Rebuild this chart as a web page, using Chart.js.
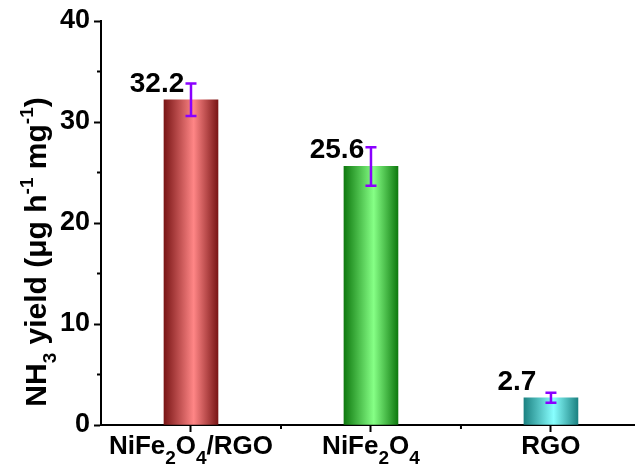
<!DOCTYPE html>
<html>
<head>
<meta charset="utf-8">
<script src="https://cdn.jsdelivr.net/npm/chart.js@4/dist/chart.umd.min.js"></script>
<style>
  html, body { margin: 0; padding: 0; background: #fff; overflow: hidden; }
  #wrap { width: 635px; height: 473px; }
</style>
</head>
<body>
<div id="wrap"><canvas id="c" width="635" height="473"></canvas></div>
<script>
// Samples (rich text: _{..} subscript, ^{..} superscript)
const categories = ['NiFe_{2}O_{4}/RGO', 'NiFe_{2}O_{4}', 'RGO'];
const positions = [1, 2, 3];
const yieldValues = [32.2, 25.6, 2.7];
const yieldErrors = [1.6, 1.9, 0.5];
const valueLabels = ['32.2', '25.6', '2.7'];
const yMajorTicks = [0, 10, 20, 30, 40];
const yMinorTicks = [5, 15, 25, 35];
const xMinorTicks = [1.5, 2.5];
const yTitle = 'NH_{3} yield (μg h^{-1} mg^{-1})';
// edge shade, centre shade for each cylinder-like bar
const barShades = [
  ['#7a1616', '#ff8686'],
  ['#0f7a0f', '#86ff86'],
  ['#1c8282', '#88ffff']
];

const FONT = "Arial, 'Liberation Sans', sans-serif";
const BAR_W = 54;

function parseRich(s) {
  const out = [];
  const re = /([_^])\{([^}]*)\}/g;
  let last = 0, m;
  while ((m = re.exec(s)) !== null) {
    if (m.index > last) out.push({ t: s.slice(last, m.index), k: 'n' });
    out.push({ t: m[2], k: m[1] === '_' ? 'sub' : 'sup' });
    last = re.lastIndex;
  }
  if (last < s.length) out.push({ t: s.slice(last), k: 'n' });
  return out;
}

// style: {scale, subDy, supDy} as fractions of the base size
function drawRich(ctx, s, x, y, size, align, style) {
  const segs = parseRich(s);
  const fontOf = k => 'bold ' + (k === 'n' ? size : Math.round(size * style.scale)) + 'px ' + FONT;
  let total = 0;
  segs.forEach(g => { ctx.font = fontOf(g.k); g.w = ctx.measureText(g.t).width; total += g.w; });
  let cx = align === 'center' ? x - total / 2 : (align === 'right' ? x - total : x);
  ctx.textAlign = 'left';
  ctx.textBaseline = 'alphabetic';
  segs.forEach(g => {
    ctx.font = fontOf(g.k);
    let dy = 0;
    if (g.k === 'sub') dy = size * style.subDy;
    if (g.k === 'sup') dy = -size * style.supDy;
    ctx.fillText(g.t, cx, y + dy);
    cx += g.w;
  });
}

function fillFor(c) {
  const chart = c.chart;
  const shade = barShades[c.dataIndex];
  if (!chart.chartArea || !chart.scales.x) return shade[1];
  const cx = chart.scales.x.getPixelForValue(positions[c.dataIndex]);
  const g = chart.ctx.createLinearGradient(cx - BAR_W / 2, 0, cx + BAR_W / 2, 0);
  g.addColorStop(0, shade[0]);
  g.addColorStop(0.55, shade[1]);
  g.addColorStop(1, shade[0]);
  return g;
}

const decor = {
  id: 'decor',
  afterDatasetsDraw(chart) {
    const ctx = chart.ctx;
    const xs = chart.scales.x, ys = chart.scales.y;
    const area = chart.chartArea;
    ctx.save();

    // minor ticks
    ctx.strokeStyle = '#000';
    ctx.lineWidth = 2;
    yMinorTicks.forEach(v => {
      const py = ys.getPixelForValue(v);
      ctx.beginPath(); ctx.moveTo(area.left, py); ctx.lineTo(area.left - 4, py); ctx.stroke();
    });
    xMinorTicks.forEach(v => {
      const px = xs.getPixelForValue(v);
      ctx.beginPath(); ctx.moveTo(px, area.bottom); ctx.lineTo(px, area.bottom + 4); ctx.stroke();
    });

    // error bars
    ctx.strokeStyle = '#8a00ff';
    ctx.lineWidth = 2.5;
    positions.forEach((p, i) => {
      const px = xs.getPixelForValue(p);
      const hi = ys.getPixelForValue(yieldValues[i] + yieldErrors[i]);
      const lo = ys.getPixelForValue(yieldValues[i] - yieldErrors[i]);
      ctx.beginPath();
      ctx.moveTo(px, hi); ctx.lineTo(px, lo);
      ctx.moveTo(px - 5.5, hi); ctx.lineTo(px + 5.5, hi);
      ctx.moveTo(px - 5.5, lo); ctx.lineTo(px + 5.5, lo);
      ctx.stroke();
    });

    // value labels, placed up-left of each bar top
    ctx.fillStyle = '#000';
    positions.forEach((p, i) => {
      const px = xs.getPixelForValue(p);
      const top = ys.getPixelForValue(yieldValues[i]);
      ctx.font = 'bold 28px ' + FONT;
      ctx.textAlign = 'center';
      ctx.textBaseline = 'alphabetic';
      ctx.fillText(valueLabels[i], px - 34, top - 8);
    });

    // category labels
    positions.forEach((p, i) => {
      const px = xs.getPixelForValue(p);
      drawRich(ctx, categories[i], px, area.bottom + 29, 26, 'center', { scale: 0.72, subDy: 0.4, supDy: 0.42 });
    });

    // y-axis title
    ctx.translate(46, 252);
    ctx.rotate(-Math.PI / 2);
    drawRich(ctx, yTitle, 0, 0, 30, 'center', { scale: 0.62, subDy: 0.32, supDy: 0.42 });

    ctx.restore();
  }
};

new Chart(document.getElementById('c').getContext('2d'), {
  type: 'bar',
  data: {
    datasets: [{
      data: positions.map((x, i) => ({ x: x, y: yieldValues[i] })),
      backgroundColor: fillFor,
      borderWidth: 0,
      barThickness: BAR_W
    }]
  },
  options: {
    responsive: false,
    animation: false,
    devicePixelRatio: 1,
    layout: { padding: { top: 21, right: 0, bottom: 0, left: 0 } },
    plugins: { legend: { display: false }, tooltip: { enabled: false } },
    scales: {
      x: {
        type: 'linear',
        offset: false,
        min: 0.5,
        max: 3.467,
        afterBuildTicks: s => { s.ticks = positions.map(v => ({ value: v })); },
        afterFit: s => { s.height = 48; },
        ticks: { display: false },
        grid: { display: true, offset: false, drawOnChartArea: false, drawTicks: true, tickLength: 7, tickWidth: 2, tickColor: '#000' },
        border: { display: true, color: '#000', width: 2 }
      },
      y: {
        min: 0,
        max: 40,
        afterBuildTicks: s => { s.ticks = yMajorTicks.map(v => ({ value: v })); },
        afterFit: s => { s.width = 101; },
        ticks: { color: '#000', padding: 4, font: { family: FONT, size: 27, weight: 'bold' } },
        grid: { display: true, drawOnChartArea: false, drawTicks: true, tickLength: 7, tickWidth: 2, tickColor: '#000' },
        border: { display: true, color: '#000', width: 2 }
      }
    }
  },
  plugins: [decor]
});
</script>
</body>
</html>
